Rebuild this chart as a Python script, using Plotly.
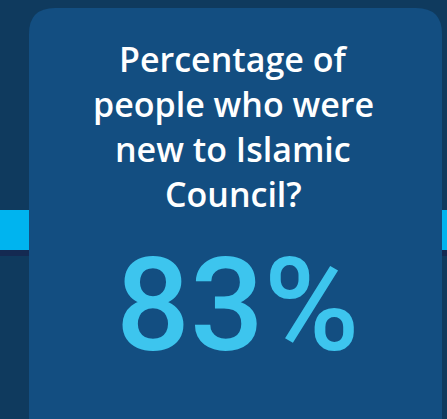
import plotly.graph_objects as go

# ---- data ----
title_lines = ["Percentage of", "people who were", "new to Islamic", "Council?"]
value = 83
value_suffix = "%"

# ---- style ----
W, H = 447, 419
bg = "#0f3a5e"
card = "#134e81"
band = "#00b4ef"
band_dark = "#142a52"
num_color = "#3dc5ee"

fig = go.Figure()

# background band (behind card)
fig.add_shape(type="rect", x0=0, x1=W, y0=210, y1=250, fillcolor=band, line_width=0, layer="below")
fig.add_shape(type="rect", x0=0, x1=W, y0=250, y1=256, fillcolor=band_dark, line_width=0, layer="below")

# rounded card
x0, x1, y0, y1, r = 29, 442, 8, 460, 26
path = (f"M {x0+r},{y0} L {x1-r},{y0} Q {x1},{y0} {x1},{y0+r} "
        f"L {x1},{y1-r} Q {x1},{y1} {x1-r},{y1} L {x0+r},{y1} Q {x0},{y1} {x0},{y1-r} "
        f"L {x0},{y0+r} Q {x0},{y0} {x0+r},{y0} Z")
fig.add_shape(type="path", path=path, fillcolor=card, line_width=0, layer="below")

cx = 233
line_y0, line_dy = 59, 45
for i, t in enumerate(title_lines):
    fig.add_annotation(x=cx, y=line_y0 + i * line_dy, text=t, showarrow=False,
                       xanchor="center", yanchor="middle",
                       font=dict(family="Open Sans", size=34, color="white", weight=600))

fig.add_annotation(x=238, y=305, text=f"{value}{value_suffix}", showarrow=False,
                   xanchor="center", yanchor="middle",
                   font=dict(family="Roboto", size=130, color=num_color, weight=500))

fig.update_layout(
    width=W, height=H, margin=dict(l=0, r=0, t=0, b=0),
    paper_bgcolor=bg, plot_bgcolor=bg,
    xaxis=dict(range=[0, W], visible=False, fixedrange=True),
    yaxis=dict(range=[H, 0], visible=False, fixedrange=True),
    showlegend=False,
)

fig.write_html("out.html", config={"displayModeBar": False},
               post_script="document.body.style.margin='0';document.body.style.overflow='hidden';")
